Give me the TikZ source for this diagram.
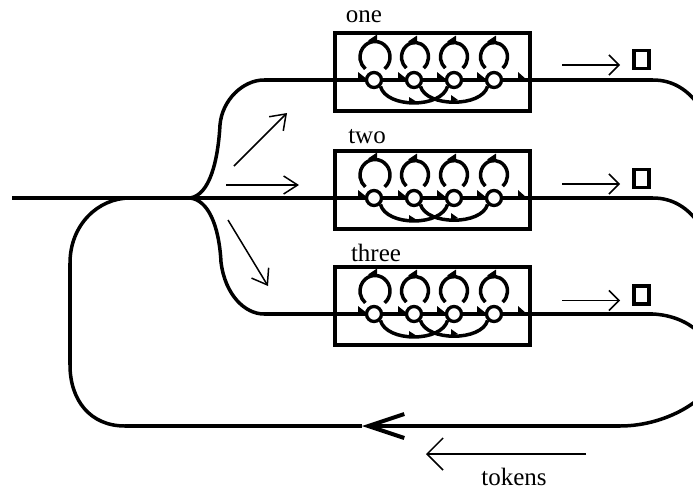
\documentclass[tikz,border=0pt]{standalone}
\usepackage{fontspec}
\setmainfont{Liberation Serif}
\usetikzlibrary{arrows.meta}
\tikzset{
mainline/.style={
  line width=4pt,
  }
}
\tikzset{
curveline/.style={
  line width=3.5pt,
  }
}
\tikzset{
thinline/.style 2 args={
  line width=1.5pt,
  -{Straight Barb[length=#1,width=#2,line width=1.5pt]}
  }
}
\tikzset{
bigline/.style={
  line width=4pt,
  -{Straight Barb[length=36pt,width=24pt,line width=4pt]}
  }
}
\tikzset{
unitbox/.style={
  rectangle,
  line width=3.5pt,
  inner sep=0pt,
  minimum width=195pt,
  minimum height=78pt,
  draw=black,
  }
}
\tikzset{
placestyle/.style={
  circle,
  line width=3.3pt,
  inner sep=0pt,
  minimum size=15pt,
  draw=black,
  fill=white,
  }
}
\tikzset{
sinkstyle/.style={
  rectangle,
  line width=3.5pt,
  inner sep=0pt,
  minimum width=15pt,
  minimum height=18pt,
  draw=black,
  }
}
\tikzset{
labelstyle/.style={
  inner sep=0pt,
  font=\fontsize{25}{30}\selectfont,
  }
}
\begin{document}
\begin{tikzpicture}[x=1pt,y=-1pt]
    \useasboundingbox (0,0) rectangle (693,490);
    \clip (0,0) rectangle (693,490);

    % input and fork
    \coordinate (in) at (12,198);
    \coordinate (fork) at (190,198);
    \coordinate (back) at (130,198);

    % the three units
    \foreach \i/\y/\name/\xname/\ylab/\ysink in {1/80/one/364/17/59.5, 2/198/two/367/137/178.5, 3/314/three/376/253/295}{
      \node[unitbox] (box\i) at (432.5,\y-8) {};
      \foreach \j/\x/\r/\q in {1/375/15/15.5,2/415/13.5/14.5,3/454/13.5/14.5,4/494/13.5/14.5}{
        \fill (\x-17,\y-8) -- (\x-7,\y) -- (\x-17,\y) -- cycle;
        \draw[curveline] (\x,\y-23) ++({\r*cos(50)},{\q*sin(50)}) arc[start angle=50,end angle=-230,x radius=\r,y radius=\q];
        \fill (\x-7,\y-23-\q-1) -- (\x+2,\y-23-\q-7) -- (\x+2,\y-23-\q+1) -- cycle;
      }
      \fill (518,\y-8) -- (527,\y) -- (518,\y) -- cycle;
      \node[sinkstyle] (sink\i) at (641.5,\ysink) {};
      \node[labelstyle] (label\i) at (\xname,\ylab) {\name};
      \coordinate (start\i) at (562,\ysink+5.5);
      \coordinate (end\i) at (620,\ysink+5.5);
      \draw[thinline={10pt}{20pt}] (start\i) -- (end\i);
      \coordinate (out\i) at (653,\y);
      \coordinate (entry\i) at (264,\y);
      \draw[mainline] (\ifnum\i=2 fork\else entry\i\fi) -- (out\i);
      \foreach \j/\x in {1/374,2/414,3/454,4/494}{
        \node[placestyle] (place\i\j) at (\x,\y) {};
      }
      % cross arcs
      \draw[curveline] (place\i1.south east) .. controls +(6,22) and +(-6,22) .. (place\i3.south west);
      \draw[curveline] (place\i2.south east) .. controls +(6,21) and +(-6,21) .. (place\i4.south west);
      \fill (409,\y+17) -- (417,\y+22) -- (409,\y+24) -- cycle;
      \fill (451,\y+15) -- (458,\y+20) -- (451,\y+22) -- cycle;
    }

    % fork edges
    \draw[mainline] (in) -- (fork);
    \draw[curveline] (fork) .. controls (210,195) and (218,160) .. (220,125) .. controls (222,100) and (243,80) .. (entry1);
    \draw[curveline] (fork) .. controls (208,200) and (219,225) .. (221,262) .. controls (225,295) and (245,314) .. (entry3);

    % direction arrows
    \coordinate (upa) at (234,166);
    \coordinate (upb) at (287,113);
    \coordinate (mida) at (226,185);
    \coordinate (midb) at (299,185);
    \coordinate (lowa) at (228,220);
    \coordinate (lowb) at (268,286);
    \draw[thinline={14pt}{20pt}] (upa) -- (upb);
    \draw[thinline={14pt}{18pt}] (mida) -- (midb);
    \draw[thinline={14pt}{20pt}] (lowa) -- (lowb);

    % return path
    \coordinate (ret) at (620,426);
    \coordinate (tip) at (362,426);
    \draw[curveline] (out1) .. controls (675,80) and (692,92) .. (705,115);
    \draw[curveline] (out2) .. controls (675,198) and (692,210) .. (705,233);
    \draw[curveline] (out3) .. controls (690,316) and (715,340) .. (716,370) .. controls (716,395) and (670,426) .. (ret);
    \draw[bigline] (ret) -- (tip);
    \draw[mainline] (tip) -- (125,426);
    \draw[curveline] (125,426) .. controls (90,426) and (70,400) .. (70,365);
    \draw[mainline] (70,365) -- (70,263);
    \draw[curveline] (70,263) .. controls (70,225) and (98,198) .. (back);

    % tokens
    \coordinate (tokena) at (586,454);
    \coordinate (tokenb) at (426,454);
    \draw[thinline={16pt}{32pt}] (tokena) -- (tokenb);
    \node[labelstyle] (tokens) at (514,477) {tokens};
\end{tikzpicture}
\end{document}
